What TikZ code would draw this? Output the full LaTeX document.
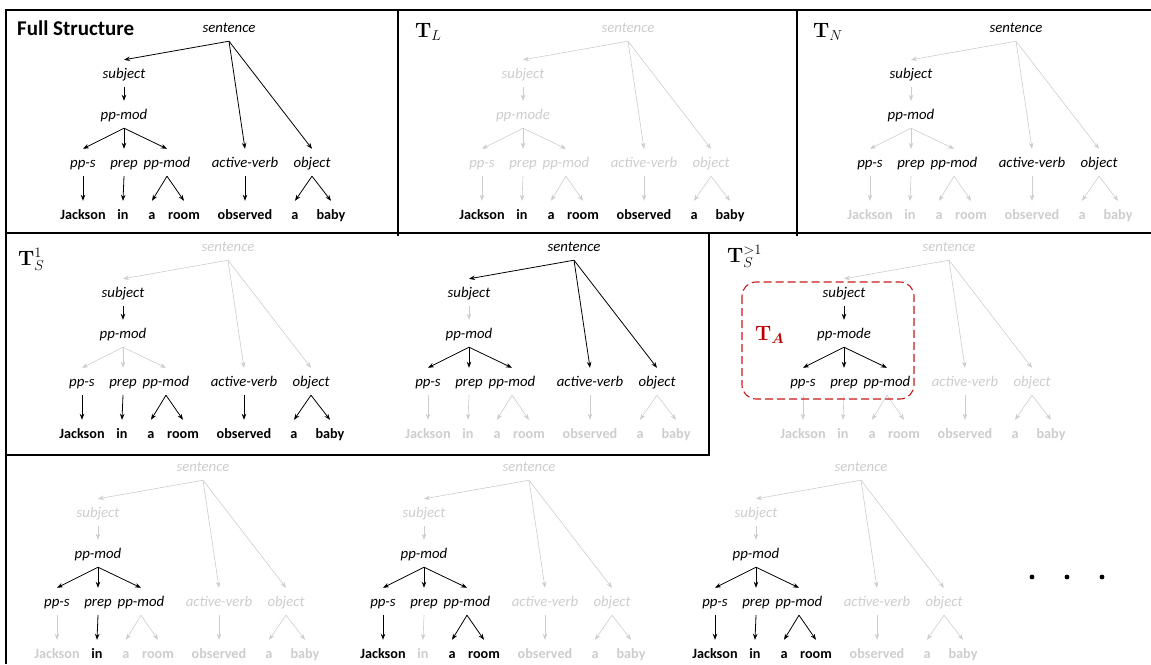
\documentclass[tikz,border=0pt]{standalone}
\usepackage[no-math]{fontspec}
\usepackage{bm}
\setmainfont{Carlito}
\usetikzlibrary{arrows.meta}

\definecolor{faded}{RGB}{205,205,205}
\definecolor{tared}{RGB}{192,0,0}

\tikzset{
  lbl/.style={font=\fontsize{14.8}{17}\selectfont\itshape, text=faded, text height=13pt, text depth=3pt,
    inner ysep=5.5pt, inner xsep=1pt, anchor=base},
  wrd/.style={lbl, font=\fontsize{14.2}{17}\selectfont\bfseries},
  link/.style={draw=faded, line width=0.6pt, -{Stealth[length=6pt,width=4.5pt]}},
  ln/.style={n-#1/.style={text=black}},
  le/.style={e-#1/.style={draw=black, line width=0.8pt}},
  top on/.style={ln=s, ln=sub, ln=pp, ln=pps, ln=prep, ln=pp2, ln=av, ln=obj},
  words on/.style={ln=w1, ln=w2, ln=w3, ln=w4, ln=w5, ln=w6, ln=w7},
  fan on/.style={ln=pp, ln=pps, ln=prep, ln=pp2, le=pps, le=prep, le=pp2},
  boxline/.style={line width=2.4pt},
  title/.style={font=\huge, anchor=base west, inner sep=0pt}
}

% one parse tree; #1 name prefix, #2 baseline of "sentence", #3 label of the pp-mod node
\newcommand{\sktree}[3]{%
  \node[lbl, n-s/.try] (#1s) at #2 {sentence};
  \node[lbl, n-sub/.try] (#1sub) at ([shift={(-105,46)}]#1s.base) {subject};
  \node[lbl, n-pp/.try] (#1pp) at ([shift={(-105,87)}]#1s.base) {#3};
  \node[lbl, n-pps/.try] (#1pps) at ([shift={(-146,135)}]#1s.base) {pp-s};
  \node[lbl, n-prep/.try] (#1prep) at ([shift={(-105,135)}]#1s.base) {prep};
  \node[lbl, n-pp2/.try] (#1pp2) at ([shift={(-62,135)}]#1s.base) {pp-mod};
  \node[lbl, n-av/.try] (#1av) at ([shift={(16,135)}]#1s.base) {active-verb};
  \node[lbl, n-obj/.try] (#1obj) at ([shift={(83,135)}]#1s.base) {object};
  \node[wrd, n-w1/.try] (#1w1) at ([shift={(-146,187)}]#1s.base) {Jackson};
  \node[wrd, n-w2/.try] (#1w2) at ([shift={(-106,187)}]#1s.base) {in};
  \node[wrd, n-w3/.try] (#1w3) at ([shift={(-77,187)}]#1s.base) {a};
  \node[wrd, n-w4/.try] (#1w4) at ([shift={(-45,187)}]#1s.base) {room};
  \node[wrd, n-w5/.try] (#1w5) at ([shift={(16,187)}]#1s.base) {observed};
  \node[wrd, n-w6/.try] (#1w6) at ([shift={(66,187)}]#1s.base) {a};
  \node[wrd, n-w7/.try] (#1w7) at ([shift={(102,187)}]#1s.base) {baby};
  \foreach \a/\b/\k in {s/sub/ssub, s/av/sav, s/obj/sobj, sub/pp/subpp, pp/pps/pps, pp/prep/prep,
      pp/pp2/pp2, pps/w1/w1, prep/w2/w2, pp2/w3/w3, pp2/w4/w4, av/w5/w5, obj/w6/w6, obj/w7/w7}
    {\draw[link, e-\k/.try] (#1\a.south) -- (#1\b.north);}
}

\begin{document}
\begin{tikzpicture}[x=1pt, y=-1pt]
\useasboundingbox (0,0) rectangle (1151,664);

% frames
\draw[boxline] (1151,10) -- (6,10) -- (6,664);
\draw[boxline] (6,233) -- (1151,233);
\draw[boxline] (398,10) -- (398,236) (797,10) -- (797,236);
\draw[boxline] (6,455) -- (709,455) -- (709,233);

% titles
\node[anchor=base west, inner sep=0pt, font=\fontsize{21}{24}\selectfont\bfseries] (full) at (17,35) {Full Structure};
\node[title] (tl) at (415,37) {$\mathbf{T}_L$};
\node[title] (tn) at (813,37) {$\mathbf{T}_N$};
\node[title] (ts1) at (18,265) {$\mathbf{T}_S^1$};
\node[title] (tsg) at (727,262) {$\mathbf{T}_S^{>1}$};

% row 1
\begin{scope}[lbl/.append style={text=black}, link/.append style={draw=black, line width=0.8pt}]
  \sktree{a}{(229,32.5)}{pp-mod}
\end{scope}
\begin{scope}[words on]
  \sktree{b}{(628,32.5)}{pp-mode}
\end{scope}
\begin{scope}[top on]
  \sktree{c}{(1016,32.5)}{pp-mod}
\end{scope}

% row 2
\begin{scope}[ln=sub, ln=pp, ln=pps, ln=prep, ln=pp2, ln=av, ln=obj, words on,
    le=subpp, le=w1, le=w2, le=w3, le=w4, le=w5, le=w6, le=w7]
  \sktree{d}{(228,251.5)}{pp-mod}
\end{scope}
\begin{scope}[top on, le=ssub, le=sav, le=sobj, le=pps, le=prep, le=pp2]
  \sktree{e}{(574,251.5)}{pp-mod}
\end{scope}
\begin{scope}[fan on, ln=sub, le=subpp]
  \sktree{f}{(949,251.5)}{pp-mode}
\end{scope}
\draw[tared!90!white, dashed, dash pattern=on 8pt off 4pt, line width=1.1pt, rounded corners=14pt]
  (742,282) rectangle (914,399);
\node[anchor=base west, inner sep=0pt, font=\huge, text=tared] (ta) at (755,340) {$\mathbf{T}_{\bm{A}}$};

% row 3
\begin{scope}[fan on, ln=w2, le=w2]
  \sktree{g}{(203,471.5)}{pp-mod}
\end{scope}
\begin{scope}[fan on, ln=w1, ln=w3, ln=w4, le=w1, le=w3, le=w4]
  \sktree{h}{(529,471.5)}{pp-mod}
\end{scope}
\begin{scope}[fan on, ln=w1, ln=w2, ln=w3, ln=w4, le=w1, le=w2, le=w3, le=w4]
  \sktree{i}{(861,471.5)}{pp-mod}
\end{scope}
\foreach \x [count=\i] in {1032,1067,1102}
  \node[circle, fill, inner sep=1.7pt] (dot\i) at (\x,577) {};
\end{tikzpicture}
\end{document}
